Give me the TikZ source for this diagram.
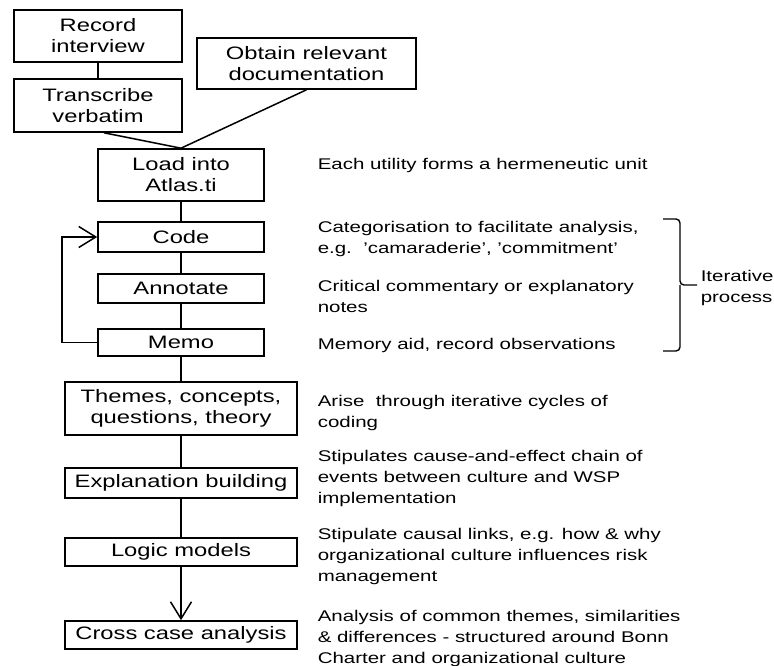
\documentclass[tikz,border=0pt]{standalone}
\usepackage{fontspec}
\setmainfont{Liberation Sans}[FakeStretch=1.32]
\usetikzlibrary{arrows.meta,calc}
\begin{document}
\begin{tikzpicture}[x=1pt,y=-1pt,
  line width=1.6pt,
  stage/.style={draw, inner sep=0pt, align=center, minimum width=166pt,
    font=\fontsize{18}{21}\selectfont},
  wide/.style={stage, minimum width=232pt},
  note/.style={anchor=north west, inner sep=0pt, align=left,
    font=\fontsize{15.5}{21}\selectfont},
  link/.style={draw, line width=1.5pt},
  tip/.style={-{Straight Barb[length=17pt,width=21pt,line width=1.5pt]}}]
\useasboundingbox[fill=white] (0,0) rectangle (774,666);

% collection of material
\node[stage, minimum width=168pt, minimum height=52pt] (rec) at (98,36) {Record\\interview};
\node[stage, minimum width=168pt, minimum height=53pt] (trans) at (98,105.5) {Transcribe\\verbatim};
\node[stage, minimum width=219pt, minimum height=51pt] (obt) at (306.5,63.5) {Obtain relevant\\documentation};
\node[stage, minimum height=52pt] (load) at (181,175) {Load into\\Atlas.ti};

% coding cycle
\node[stage, minimum height=30pt] (code) at (181,237) {Code};
\node[stage, minimum height=29pt] (annot) at (181,288.5) {Annotate};
\node[stage, minimum height=27pt] (memo) at (181,342.5) {Memo};

% analysis
\node[wide, minimum height=53pt] (themes) at (181,408.5) {Themes, concepts,\\questions, theory};
\node[wide, minimum height=30pt] (expl) at (181,483) {Explanation building};
\node[wide, minimum height=28pt] (logic) at (181,552) {Logic models};
\node[wide, minimum height=28pt] (cross) at (181,635) {Cross case analysis};

% connectors
\draw[link] (rec) -- (trans);
\draw[link] ([xshift=6pt]trans.south) -- (load.north);
\draw[link] (obt.south) -- (load.north);
\draw[link] (load) -- (code);
\draw[link] (code) -- (annot);
\draw[link] (annot) -- (memo);
\draw[link, tip] (memo.west) -- ++(-35,0) |- (code.west);
\draw[link] (memo) -- (themes);
\draw[link] (themes) -- (expl);
\draw[link] (expl) -- (logic);
\draw[link, tip] (logic) -- (cross);

% explanatory notes
\node[note] (n1) at (317,157) {Each utility forms a hermeneutic unit};
\node[note] (n2) at (317,220) {Categorisation to facilitate analysis,\\e.g.\ \ 'camaraderie', 'commitment'};
\node[note] (n3) at (317,279) {Critical commentary or explanatory\\notes};
\node[note] (n4) at (317,337) {Memory aid, record observations};
\node[note] (n5) at (317,394) {Arise\ \ through iterative cycles of\\coding};
\node[note] (n6) at (317,449) {Stipulates cause-and-effect chain of\\events between culture and WSP\\implementation};
\node[note] (n7) at (317,527) {Stipulate causal links, e.g. how \& why\\organizational culture influences risk\\management};
\node[note] (n8) at (317,609) {Analysis of common themes, similarities\\\& differences - structured around Bonn\\Charter and organizational culture};

% brace grouping the coding cycle
\coordinate (btop) at (663,219);
\coordinate (bbot) at (663,351);
\coordinate (bmid) at (680,285);
\coordinate (btip) at (697,285);
\draw[line width=1.4pt, rounded corners=4pt] (btop) -| (bmid) -- (btip);
\draw[line width=1.4pt, rounded corners=4pt] (bbot) -| (bmid);
\node[note] (iter) at (700,269) {Iterative\\process};
\end{tikzpicture}
\end{document}
